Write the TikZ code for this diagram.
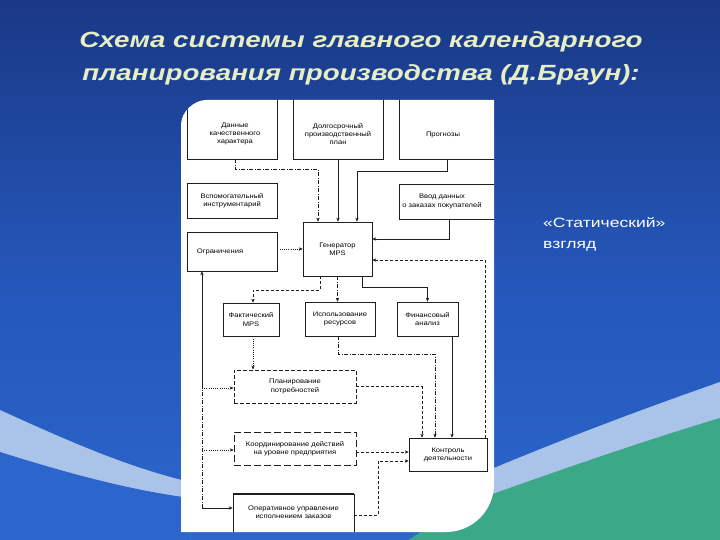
\documentclass[tikz,border=0pt]{standalone}
\usepackage{fontspec}
\setmainfont{Liberation Sans}
\newfontfamily\titlefont[FakeStretch=1.26]{Liberation Sans}
\newfontfamily\sidefont[FakeStretch=1.3]{Liberation Sans}
\newfontfamily\diafont[FakeStretch=1.15]{Liberation Sans}
\usetikzlibrary{arrows.meta,calc}
\definecolor{bgtop}{HTML}{1A3886}
\definecolor{bgmid}{HTML}{2456B8}
\definecolor{bgbot}{HTML}{2C66CC}
\definecolor{bandc}{HTML}{AAC3E9}
\definecolor{greenc}{HTML}{3BA888}
\definecolor{titlec}{HTML}{E6EFC4}
\definecolor{ink}{HTML}{1E1E1E}
\begin{document}
\begin{tikzpicture}[x=1pt,y=-1pt,
  dfont/.style={font=\diafont\fontsize{6.6}{8.2}\selectfont},
  box/.style={draw=ink, line width=0.6pt, inner sep=0pt, align=center, dfont},
  lbl/.style={align=center, dfont, inner sep=0pt},
  conn/.style={draw=ink, line width=0.6pt, -{Stealth[length=4pt,width=3.4pt]}},
  dsh/.style={dash pattern=on 3pt off 2pt},
  dtt/.style={dash pattern=on 1pt off 1.2pt},
  dsd/.style={dash pattern=on 4pt off 1.5pt on 1pt off 1.5pt},
  title/.style={font=\titlefont\bfseries\itshape\fontsize{22}{26}\selectfont, inner sep=0pt, anchor=base}]
\useasboundingbox (0,0) rectangle (720,540);
% background
\shade[top color=bgtop, bottom color=bgbot, middle color=bgmid] (0,0) rectangle (720,540);
\fill[bandc] (0,410) .. controls (70,442) and (130,468) .. (190,482) -- (190,545) -- (0,545) -- cycle;
\fill[bgbot] (0,452) .. controls (70,474) and (130,490) .. (190,498) -- (190,545) -- (0,545) -- cycle;
\fill[bandc] (720,382) .. controls (640,410) and (560,440) .. (470,478) -- (470,545) -- (720,545) -- cycle;
\fill[greenc] (720,418) .. controls (640,442) and (560,470) .. (470,502) -- (400,545) -- (720,545) -- cycle;
% title
\node[title, text=titlec] (t1) at (361,48) {Схема системы главного календарного};
\node[title, text=titlec] (t2) at (361,81) {планирования производства (Д.Браун):};
% side text
\node[anchor=west, align=left, text=white, inner sep=0pt, font=\sidefont\fontsize{13.5}{21}\selectfont] (side) at (543,234) {«Статический»\\взгляд};
% panel
\fill[white] (181,532) -- (181,125) .. controls (181,111.2) and (194.8,100) .. (206,100) -- (494,100) -- (494,484) .. controls (494,510.5) and (472.5,532) .. (446,532) -- cycle;
\begin{scope}
\clip (181,532) -- (181,125) .. controls (181,111.2) and (194.8,100) .. (206,100) -- (494,100) -- (494,484) .. controls (494,510.5) and (472.5,532) .. (446,532) -- cycle;
% boxes
\node[box, minimum width=90pt, minimum height=69pt, label={[lbl,xshift=3pt,yshift=-9.5pt]center:Данные\\качественного\\характера}] (dan) at (232,124.5) {};
\node[box, minimum width=90pt, minimum height=69pt, label={[lbl,yshift=-9.5pt]center:Долгосрочный\\производственный\\план}] (dolg) at (338,124.5) {};
\node[box, minimum width=106pt, minimum height=69pt, label={[lbl,xshift=-9pt,yshift=-10.5pt]center:Прогнозы}] (prog) at (452,124.5) {};
\node[box, minimum width=90pt, minimum height=35pt] (vsp) at (232,200.5) {Вспомогательный\\инструментарий};
\node[box, minimum width=106pt, minimum height=35pt, label={[lbl,xshift=-10pt]center:Ввод данных\\о заказах покупателей}] (vvod) at (452,201.5) {};
\node[box, minimum width=90pt, minimum height=39pt, label={[lbl,xshift=-12pt]center:Ограничения}] (ogr) at (232,251.5) {};
\node[box, minimum width=69pt, minimum height=54pt] (gen) at (337.5,249) {Генератор\\MPS};
\node[box, minimum width=56pt, minimum height=33pt] (fakt) at (251,319.5) {Фактический\\MPS};
\node[box, minimum width=70pt, minimum height=34pt] (isp) at (340,319) {Использование\\ресурсов};
\node[box, minimum width=61pt, minimum height=34pt] (fin) at (427.5,319) {Финансовый\\анализ};
\node[box, minimum width=122pt, minimum height=33pt, line width=0.9pt, dash pattern=on 4pt off 2pt] (plan) at (295,386.5) {Планирование\\потребностей};
\node[box, minimum width=122pt, minimum height=33pt, dash pattern=on 7pt off 3pt] (koord) at (295,448.5) {Координирование действий\\на уровне предприятия};
\node[box, minimum width=78pt, minimum height=33pt] (kontr) at (448,454.5) {Контроль\\деятельности};
\node[box, minimum width=121pt, minimum height=51pt, label={[lbl,yshift=7.5pt]center:Оперативное управление\\исполнением заказов}] (oper) at (293.5,519.5) {};
\draw[ink, line width=1.5pt] (oper.north west) -- (oper.north east);
% connectors into generator
\draw[conn, dsd] ([xshift=3pt]dan.south) -- ++(0,10) -| ([xshift=-19.5pt]gen.north);
\draw[conn] (dolg.south) -- (dolg.south |- gen.north);
\draw[conn] ([xshift=-5pt]prog.south) -- ++(0,12) -| ([xshift=19.5pt]gen.north);
\draw[conn] ([xshift=-3pt]vvod.south) |- ([yshift=10pt]gen.east);
\draw[conn, dsh] ([xshift=-2pt]kontr.north east) |- ([yshift=-11pt]gen.east);
\draw[conn, dtt] (ogr.east |- gen.west) -- (gen.west);
% out of generator
\draw[conn, dsh] ([xshift=-17.5pt]gen.south) -- ++(0,14) -| ([xshift=2pt]fakt.north);
\draw[conn, dsd] (gen.south) -- (gen.south |- isp.north);
\draw[conn] ([xshift=24.5pt]gen.south) -- ++(0,11) -| (fin.north);
% lower connectors
\coordinate (f1) at ([xshift=2pt]fakt.south);
\draw[conn, dtt] (f1) -- (f1 |- plan.north);
\draw[conn, dsd] ([xshift=-2pt]isp.south) -- ++(0,18) -| ([xshift=-13pt]kontr.north);
\coordinate (f2) at ([xshift=24.5pt]fin.south);
\draw[conn] (f2) -- (f2 |- kontr.north);
\draw[conn, dsh] (plan.east) -| ([xshift=-26pt]kontr.north);
\coordinate (k1) at ([yshift=2.5pt]kontr.west);
\draw[conn, dsh] (k1 -| koord.east) -- (k1);
\draw[conn, dsh] ([yshift=4.5pt]oper.east) -- ++(24,0) |- ([yshift=-6.5pt]kontr.west);
% left bus
\coordinate (bus) at (202,508);
\coordinate (p1) at ([yshift=-1.5pt]plan.west);
\coordinate (p2) at ([yshift=-1.5pt]koord.west);
\draw[conn] (bus |- p1) -- (bus |- ogr.south);
\draw[ink, line width=0.6pt, dsd] (bus) -- (bus |- p1);
\draw[conn, dtt] (bus |- p1) -- (p1);
\draw[conn, dtt] (bus |- p2) -- (p2);
\draw[conn] (bus) -- (bus -| oper.west);
\end{scope}
\end{tikzpicture}
\end{document}
